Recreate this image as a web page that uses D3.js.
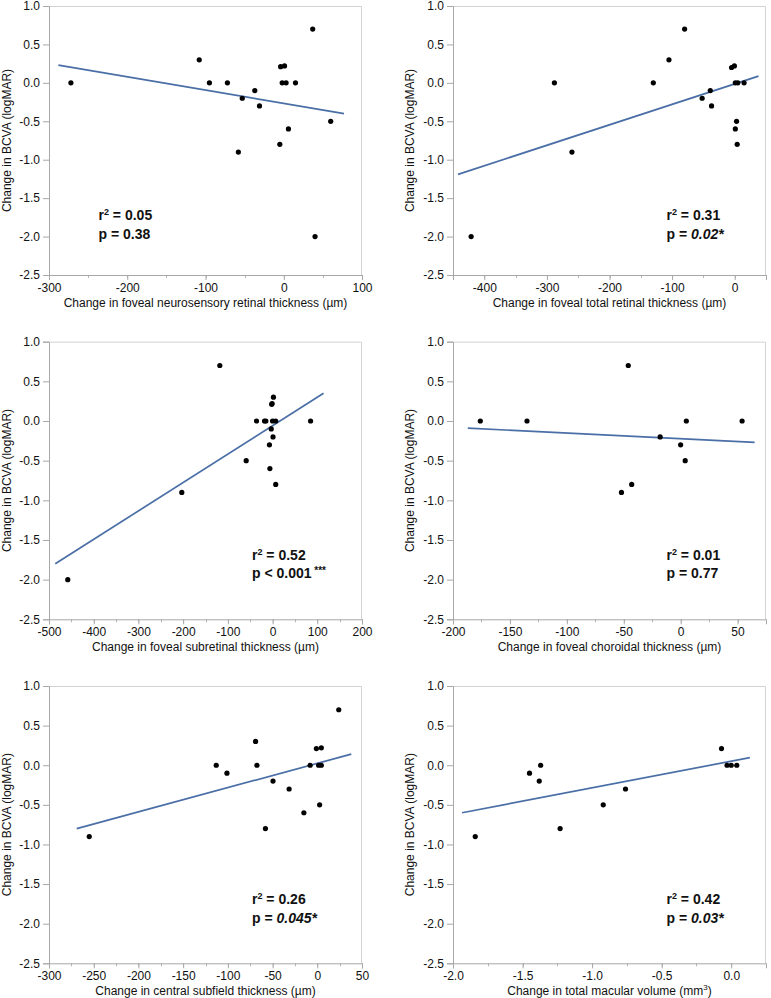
<!DOCTYPE html>
<html>
<head>
<meta charset="utf-8">
<script src="https://cdn.jsdelivr.net/npm/d3@7"></script>
<style>
  body { margin: 0; background: #fff; }
  svg { display: block; font-family: "Liberation Sans", Arial, sans-serif; }
</style>
</head>
<body>
<svg id="chart" width="771" height="998"></svg>
<script>
// values (x change, BCVA change)
var neuroX = [-272, -108, -95, -72, -53, -37, -31, -58, -5, -4, 1, -2, 3, 15, 6, 37, 40, 60];
var neuroY = [0, 0.3, 0, 0, -0.2, -0.1, -0.3, -0.9, -0.8, 0.21, 0.22, 0, 0, 0, -0.6, 0.7, -2.0, -0.5];
var neuroFitX = [-288, 77];
var neuroFitY = [0.23, -0.40];

var totalX = [-288, -80, -105, -130, -260, -421, -52, -39, -37, -5, -0.5, 1, 5, 15, 3, 1, 4];
var totalY = [0, 0.7, 0.3, 0, -0.9, -2.0, -0.2, -0.1, -0.3, 0.2, 0.22, 0, 0, 0, -0.5, -0.6, -0.8];
var totalFitX = [-442, 38];
var totalFitY = [-1.19, 0.087];

var subX = [-458, -203, -118, -59, -36, -18, -15, -7, -6, -3, -1, -2, 1, 2, 0, 7, 7, 85];
var subY = [-2.0, -0.9, 0.7, -0.5, 0, 0, 0, -0.3, -0.6, -0.1, 0.22, 0.21, -0.2, 0.3, 0, 0, -0.8, 0];
var subFitX = [-486, 114];
var subFitY = [-1.80, 0.35];

var chorX = [-176, -135, -46, -52, -43, -18, 0, 4, 5, 54];
var chorY = [0, 0, 0.7, -0.9, -0.8, -0.2, -0.3, -0.5, 0, 0];
var chorFitX = [-187, 65];
var chorFitY = [-0.09, -0.27];

var csfX = [-255, -113, -101, -69, -67.5, -58, -49.5, -31.5, -15, -8, -1, 4.5, 1.5, 4.5, 2.6, 24];
var csfY = [-0.9, 0, -0.1, 0.3, 0, -0.8, -0.2, -0.3, -0.6, 0, 0.21, 0.22, 0, 0, -0.5, 0.7];
var csfFitX = [-269, 38];
var csfFitY = [-0.80, 0.14];

var volX = [-1.84, -1.45, -1.38, -1.37, -1.23, -0.92, -0.76, -0.07, -0.03, 0.0, 0.04];
var volY = [-0.9, -0.1, -0.2, 0, -0.8, -0.5, -0.3, 0.21, 0, 0, 0];
var volFitX = [-1.935, 0.134];
var volFitY = [-0.60, 0.096];

var yTicks = [1.0, 0.5, 0.0, -0.5, -1.0, -1.5, -2.0, -2.5];

var xTitles = [
  'Change in foveal neurosensory retinal thickness (µm)',
  'Change in foveal total retinal thickness (µm)',
  'Change in foveal subretinal thickness (µm)',
  'Change in foveal choroidal thickness (µm)',
  'Change in central subfield thickness (µm)',
  'Change in total macular volume (mm'
];
var r2Labels = ['0.05', '0.31', '0.52', '0.01', '0.26', '0.42'];
var pLabels = ['0.38', '0.02*', '0.001', '0.77', '0.045*', '0.03*'];


var panels = [
  { x: neuroX, y: neuroY, fx: neuroFitX, fy: neuroFitY, dom: [-300, 100], ticks: d3.range(-300, 101, 100), minor: 50, fmt: 'd' },
  { x: totalX, y: totalY, fx: totalFitX, fy: totalFitY, dom: [-450, 50], ticks: d3.range(-400, 1, 100), minor: 50, fmt: 'd' },
  { x: subX, y: subY, fx: subFitX, fy: subFitY, dom: [-500, 200], ticks: d3.range(-500, 201, 100), minor: 50, fmt: 'd' },
  { x: chorX, y: chorY, fx: chorFitX, fy: chorFitY, dom: [-200, 75], ticks: d3.range(-200, 51, 50), minor: 25, fmt: 'd' },
  { x: csfX, y: csfY, fx: csfFitX, fy: csfFitY, dom: [-300, 50], ticks: d3.range(-300, 51, 50), minor: 25, fmt: 'd' },
  { x: volX, y: volY, fx: volFitX, fy: volFitY, dom: [-2.0, 0.25], ticks: [-2.0, -1.5, -1.0, -0.5, 0.0], minor: 0.25, fmt: '.1f' }
];

// plot rectangles
var cols = [49, 453];
var rows = [[6, 269], [341.7, 277.6], [686, 277.3]];
var plotW = 313;

var svg = d3.select('#chart');

function hyphen(f) {
  return function (v) { return f(v).replace('\u2212', '-'); };
}

panels.forEach(function (p, i) {
  var left = cols[i % 2];
  var top = rows[Math.floor(i / 2)][0];
  var h = rows[Math.floor(i / 2)][1];
  var g = svg.append('g').attr('transform', 'translate(' + left + ',' + top + ')');

  var x = d3.scaleLinear().domain(p.dom).range([0, plotW]);
  var y = d3.scaleLinear().domain([-2.5, 1.0]).range([h, 0]);

  // frame (top, right)
  g.append('path')
    .attr('d', 'M0,0.5H' + (plotW - 0.5) + 'V' + h)
    .attr('fill', 'none')
    .attr('stroke', '#d2d2d2')
    .attr('stroke-width', 1);

  // minor x ticks
  var minorVals = d3.range(p.dom[0], p.dom[1] + 1e-9, p.minor);
  g.append('g')
    .selectAll('line')
    .data(minorVals)
    .enter()
    .append('line')
    .attr('x1', function (d) { return Math.round(x(d)) + 0.5; })
    .attr('x2', function (d) { return Math.round(x(d)) + 0.5; })
    .attr('y1', h)
    .attr('y2', h + 3)
    .attr('stroke', '#b4b4b4');

  var xAxis = g.append('g')
    .attr('transform', 'translate(0,' + h + ')')
    .call(d3.axisBottom(x).tickValues(p.ticks).tickSize(5).tickPadding(3)
      .tickFormat(hyphen(d3.format(p.fmt))));

  var yAxis = g.append('g')
    .call(d3.axisLeft(y).tickValues(yTicks).tickSize(6).tickPadding(3)
      .tickFormat(hyphen(d3.format('.1f'))));

  [xAxis, yAxis].forEach(function (a) {
    a.select('.domain').attr('stroke', '#a8a8a8');
    a.selectAll('.tick line').attr('stroke', '#a8a8a8');
    a.selectAll('.tick text')
      .attr('fill', '#111')
      .style('font-size', '12px')
      .style('font-family', '"Liberation Sans", Arial, sans-serif');
  });

  // regression line
  g.append('line')
    .attr('x1', x(p.fx[0]))
    .attr('y1', y(p.fy[0]))
    .attr('x2', x(p.fx[1]))
    .attr('y2', y(p.fy[1]))
    .attr('stroke', '#4a6ea6')
    .attr('stroke-width', 1.7);

  // points
  g.append('g')
    .selectAll('circle')
    .data(d3.range(p.x.length))
    .enter()
    .append('circle')
    .attr('cx', function (k) { return x(p.x[k]); })
    .attr('cy', function (k) { return y(p.y[k]); })
    .attr('r', 2.6)
    .attr('fill', '#000');

  // axis titles
  var xt = g.append('text')
    .attr('x', plotW / 2)
    .attr('y', h + 32)
    .attr('text-anchor', 'middle')
    .style('font-size', '12px')
    .attr('fill', '#111')
    .text(xTitles[i]);
  if (i === 5) {
    xt.append('tspan').attr('dy', -5).style('font-size', '8px').text('3');
    xt.append('tspan').attr('dy', 5).text(')');
  }

  g.append('text')
    .attr('transform', 'translate(' + (i % 2 === 0 ? -38 : -39) + ',' + (h / 2) + ') rotate(-90)')
    .attr('text-anchor', 'middle')
    .style('font-size', '12px')
    .attr('fill', '#111')
    .text('Change in BCVA (logMAR)');

  // statistics annotation
  var ax = i === 0 ? 49.5 : (i % 2 === 0 ? 203 : 213.5);
  var ay = i < 2 ? 214 : 218;
  var r2 = g.append('text')
    .attr('x', ax)
    .attr('y', ay)
    .style('font-size', '14px')
    .style('font-weight', 'bold')
    .attr('fill', '#111');
  r2.append('tspan').text('r');
  r2.append('tspan').attr('dy', -5).style('font-size', '9px').text('2');
  r2.append('tspan').attr('dy', 5).text(' = ' + r2Labels[i]);

  var pt = g.append('text')
    .attr('x', ax)
    .attr('y', ay + 18.5)
    .style('font-size', '14px')
    .style('font-weight', 'bold')
    .attr('fill', '#111');
  if (i === 2) {
    pt.append('tspan').text('p < ' + pLabels[i]);
    pt.append('tspan').attr('dy', -4).style('font-size', '10px').text(' ***');
  } else if (pLabels[i].indexOf('*') >= 0) {
    pt.append('tspan').text('p = ');
    pt.append('tspan').style('font-style', 'italic').text(pLabels[i]);
  } else {
    pt.append('tspan').text('p = ' + pLabels[i]);
  }
});
</script>
</body>
</html>
